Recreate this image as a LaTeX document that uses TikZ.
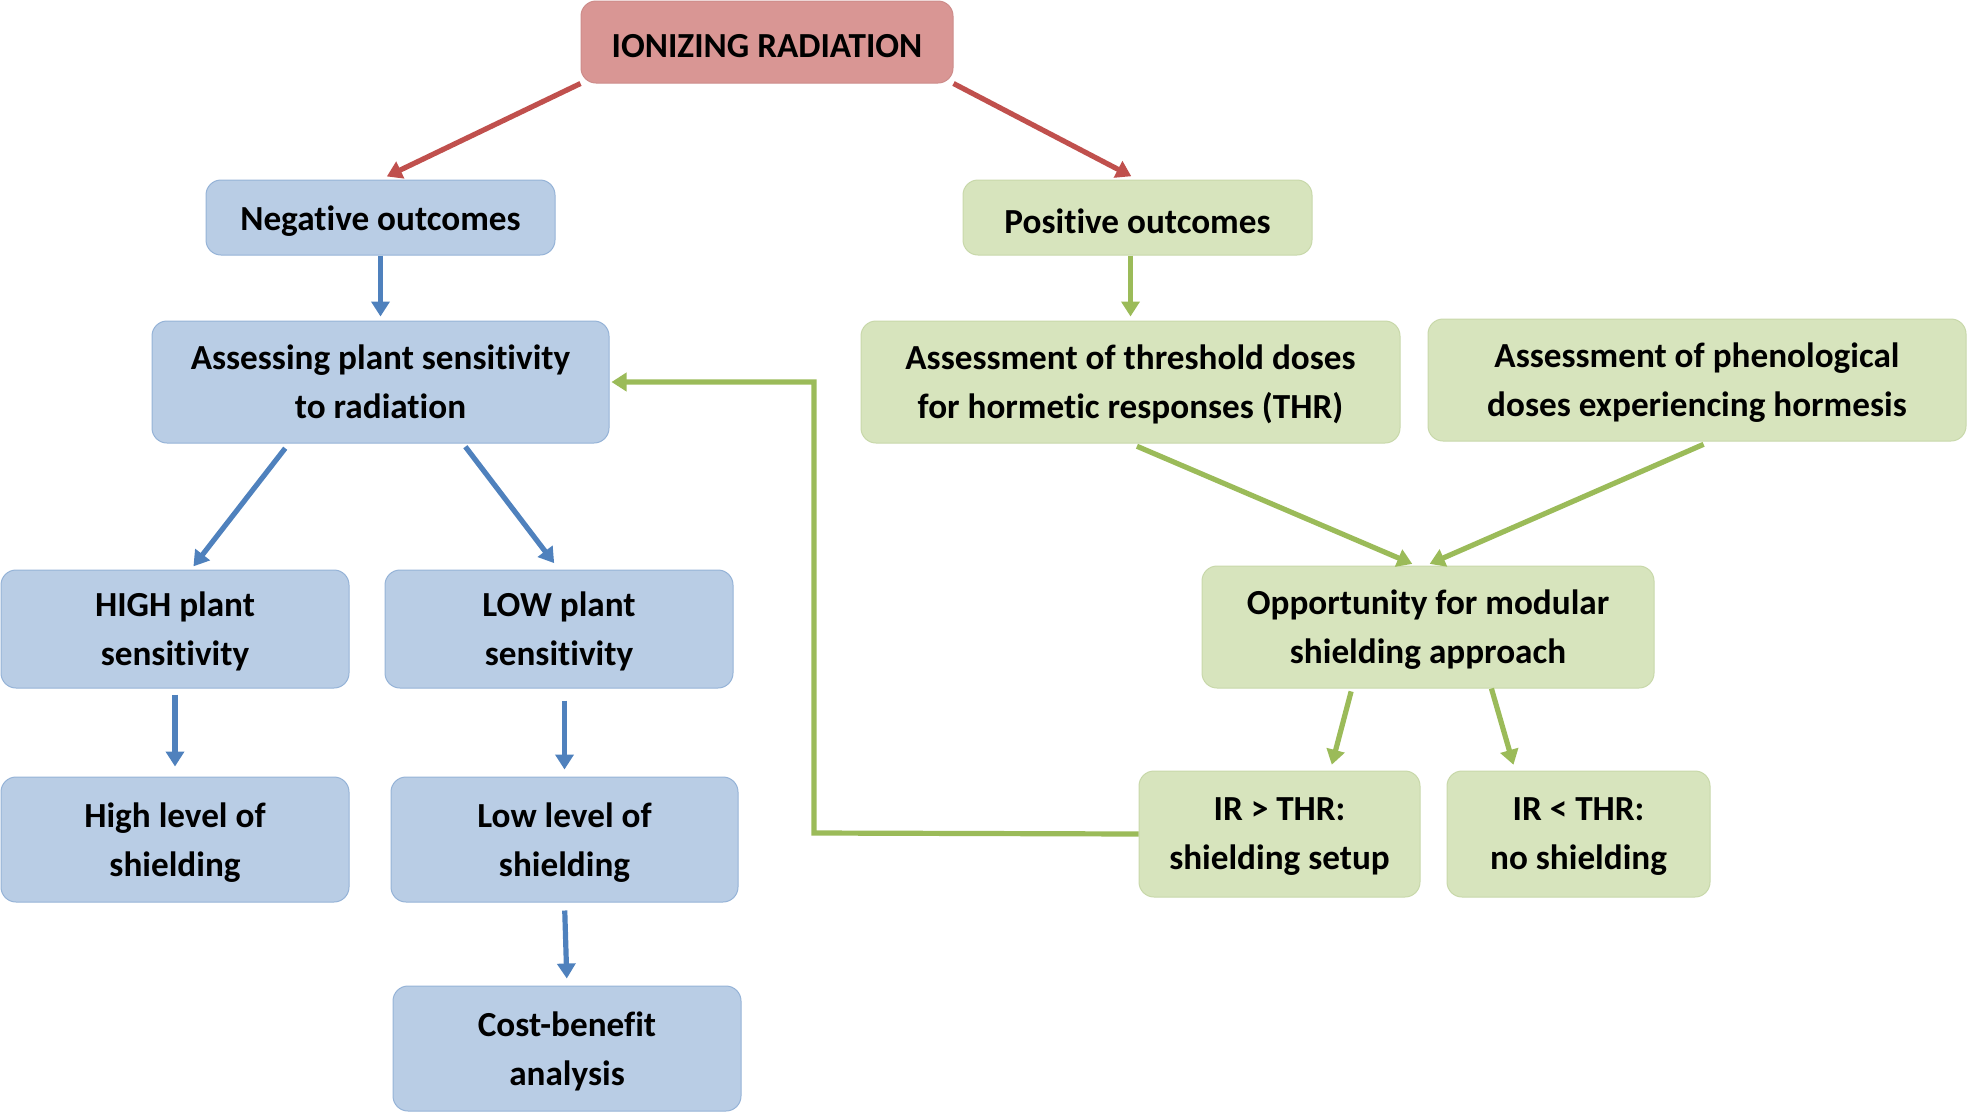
\documentclass[tikz,border=0pt]{standalone}
\usepackage{fontspec}
\setmainfont{Carlito}[Ligatures=NoCommon]
\usetikzlibrary{arrows.meta,calc}

\definecolor{radfill}{RGB}{217,150,148}
\definecolor{radline}{RGB}{205,140,138}
\definecolor{negfill}{RGB}{185,205,229}
\definecolor{negline}{RGB}{149,179,215}
\definecolor{posfill}{RGB}{215,228,189}
\definecolor{posline}{RGB}{200,216,170}
\definecolor{radarrow}{RGB}{192,80,77}
\definecolor{negarrow}{RGB}{79,129,189}
\definecolor{posarrow}{RGB}{155,187,89}

\tikzset{
  box/.style={align=center, inner sep=0pt, rounded corners=7.5pt, line width=0.5pt,
    font=\bfseries\fontsize{17.6}{24.5}\selectfont,
    execute at begin node={\rule{0pt}{16pt}}},
  twoline/.style={text depth=-4pt},
  radbox/.style={box, fill=radfill, draw=radline},
  negbox/.style={box, fill=negfill, draw=negline},
  posbox/.style={box, fill=posfill, draw=posline},
  link/.style={->, line width=2.6pt, shorten >=2pt},
}

\begin{document}
\begin{tikzpicture}[x=0.5pt,y=-0.5pt,>={Triangle[length=7.5pt,width=9pt]}]
  \useasboundingbox (0,0) rectangle (1969,1114);

  % top
  \node[radbox, minimum width=186pt, minimum height=41pt] (ion) at (767,42) {IONIZING RADIATION};

  % negative side
  \node[negbox, minimum width=174.5pt, minimum height=37.5pt] (neg) at (380.5,217.5) {Negative outcomes};
  \node[negbox, twoline, minimum width=228.5pt, minimum height=61pt] (assess) at (380.5,382) {Assessing plant sensitivity\\to radiation};
  \node[negbox, twoline, minimum width=174pt, minimum height=59pt] (high) at (175,629) {HIGH plant\\sensitivity};
  \node[negbox, twoline, minimum width=174pt, minimum height=59pt] (low) at (559,629) {LOW plant\\sensitivity};
  \node[negbox, twoline, minimum width=174pt, minimum height=62.5pt] (highlvl) at (175,839.5) {High level of\\shielding};
  \node[negbox, twoline, minimum width=173.5pt, minimum height=62.5pt] (lowlvl) at (564.5,839.5) {Low level of\\shielding};
  \node[negbox, twoline, minimum width=174pt, minimum height=62.5pt] (cost) at (567,1048.5) {Cost-benefit\\analysis};

  % positive side
  \node[posbox, minimum width=174.5pt, minimum height=37.5pt] (pos) at (1137.5,217.5) {Positive outcomes};
  \node[posbox, twoline, minimum width=269.5pt, minimum height=61pt] (thr) at (1130.5,382) {Assessment of threshold doses\\for hormetic responses (THR)};
  \node[posbox, twoline, minimum width=269pt, minimum height=61pt] (phen) at (1697,380) {Assessment of phenological\\doses experiencing hormesis};
  \node[posbox, twoline, minimum width=226pt, minimum height=61pt] (opp) at (1428,627) {Opportunity for modular\\shielding approach};
  \node[posbox, twoline, minimum width=140.5pt, minimum height=63pt] (irgt) at (1279.5,834) {IR > THR:\\shielding setup};
  \node[posbox, twoline, minimum width=131.5pt, minimum height=63pt] (irlt) at (1578.5,834) {IR < THR:\\no shielding};

  % red arrows
  \draw[link, radarrow, shorten >=3.5pt] (ion.south west) -- (neg.north);
  \draw[link, radarrow, shorten >=3.5pt] (ion.south east) -- (pos.north);

  % blue arrows
  \draw[link, negarrow] (neg.south) -- (assess.north);
  \draw[link, negarrow, shorten <=3pt] ($(assess.south west)!0.3!(assess.south east)$) -- ($(high.north)+(16,0)$);
  \draw[link, negarrow, shorten <=2pt, shorten >=4pt] ($(assess.south west)!0.68!(assess.south east)$) -- (low.north);
  \draw[link, negarrow, shorten <=3pt, shorten >=5pt] (high.south) -- (highlvl.north);
  \draw[link, negarrow, shorten <=6pt, shorten >=3.5pt] (low.south -| lowlvl.north) -- (lowlvl.north);
  \draw[link, negarrow, shorten <=4pt, shorten >=3.5pt] (lowlvl.south) -- (cost.north);

  % green arrows
  \draw[link, posarrow] (pos.south -| thr.north) -- (thr.north);
  \draw[link, posarrow, shorten <=3.5pt] (thr.south) -- ($(opp.north)+(-12,0)$);
  \draw[link, posarrow, shorten <=3.5pt] ($(phen.south)+(13,0)$) -- ($(opp.north)+(-2,0)$);
  \draw[link, posarrow, shorten <=1.5pt, shorten >=3pt] ($(opp.south west)!0.332!(opp.south east)$) -- ($(irgt.north west)!0.68!(irgt.north east)$);
  \draw[link, posarrow, shorten >=3pt] ($(opp.south west)!0.64!(opp.south east)$) -- ($(irlt.north west)!0.26!(irlt.north east)$);

  % feedback
  \coordinate (fb) at (814,833);
  \draw[link, posarrow, shorten >=1pt] (irgt.west) -- (fb) |- (assess.east);
\end{tikzpicture}
\end{document}
